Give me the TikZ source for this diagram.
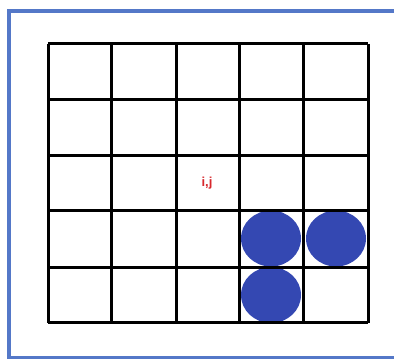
\documentclass[tikz,border=0pt]{standalone}
\usepackage{fontspec}
\setsansfont{Liberation Sans}
\usepackage{tikz}
\usetikzlibrary{shapes.geometric}

\definecolor{framebl}{RGB}{84,120,200}
\definecolor{dotbl}{RGB}{52,72,178}
\definecolor{labred}{RGB}{215,40,45}

\begin{document}
\begin{tikzpicture}[
  x=1pt,
  y=-1pt,
  gridline/.style={
    line width=3pt,
    black
  },
  frameline/.style={
    line width=3.4pt,
    framebl
  },
  dot/.style={
    ellipse,
    fill=dotbl,
    inner sep=0pt,
    minimum width=60pt,
    minimum height=56pt
  },
  celllabel/.style={
    font=\sffamily\bfseries\fontsize{13}{15}\selectfont,
    text=labred
  }
]
\useasboundingbox (0,0) rectangle (397,360);

% --- Outer frame ---
\draw[frameline] (394,11) -- (9,11) -- (9,357.5) -- (394,357.5);

% --- Occupied neighbour cells ---
\node[dot] (n44) at (271,238.5) {};
\node[dot] (n45) at (336,238.5) {};
\node[dot] (n54) at (271,295) {};

% --- 5x5 grid ---
\foreach \x in {48,111.5,176,239.5,303.5,368}
  \draw[gridline] (\x,43.5) -- (\x,322.5);
\foreach \y in {43.5,99,155,210.5,267,322.5}
  \draw[gridline] (48,\y) -- (368,\y);

% Current cell
\node[celllabel] (cij) at (207,183) {i,j};

\end{tikzpicture}
\end{document}
